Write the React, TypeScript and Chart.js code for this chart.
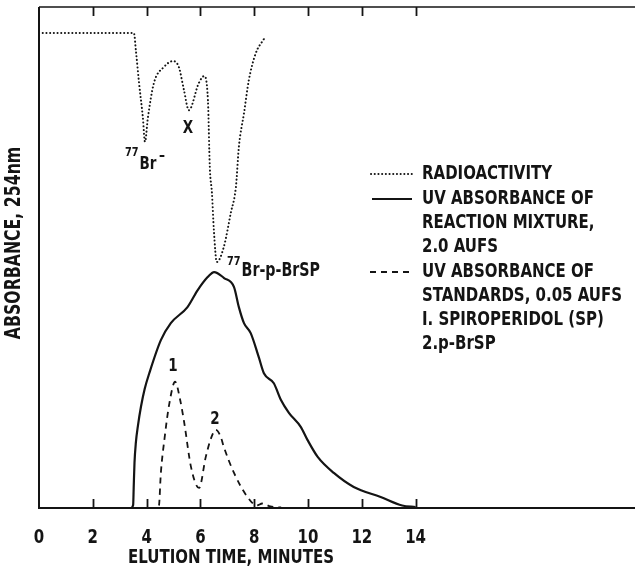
import React, { useEffect, useRef } from "react";
import { Chart, registerables } from "chart.js";

Chart.register(...registerables);

// ---- data (elution time in minutes, relative response 0-100) ----
const radioTime = [0, 3.53, 3.6, 3.72, 3.86, 3.94, 4.05, 4.27, 4.64, 4.98, 5.2, 5.39, 5.57, 5.94, 6.14, 6.28, 6.35, 6.43, 6.5, 6.61, 6.87, 7.13, 7.32, 7.43, 7.62, 7.8, 8.06, 8.36];
const radioValue = [94.8, 94.8, 91.4, 84.8, 78.0, 73.1, 78.0, 84.8, 88.0, 89.2, 88.0, 83.4, 79.4, 84.8, 86.2, 81.4, 68.0, 62.8, 55.5, 49.1, 52.1, 58.9, 64.1, 72.1, 78.8, 85.4, 90.8, 93.6];

const mixTime = [0, 3.42, 3.5, 3.52, 3.55, 3.6, 3.68, 3.79, 3.93, 4.1, 4.53, 4.9, 5.52, 5.9, 6.27, 6.51, 6.88, 7.25, 7.43, 7.62, 7.87, 8.17, 8.36, 8.73, 8.99, 9.29, 9.73, 9.98, 10.36, 10.96, 11.7, 12.7, 13.5, 14];
const mixValue = [0, 0, 0.6, 4.0, 9.0, 13.0, 16.5, 20.2, 23.8, 26.9, 33.5, 36.9, 40.1, 43.5, 46.1, 47.1, 45.9, 44.1, 40.1, 36.9, 34.9, 30.1, 26.9, 24.9, 21.6, 19.0, 16.2, 13.6, 10.2, 7.0, 4.2, 2.2, 0.5, 0.2];

const stdTime = [3.7, 4.4, 4.46, 4.53, 4.66, 4.85, 5.06, 5.25, 5.4, 5.65, 5.95, 6.2, 6.4, 6.57, 6.75, 6.87, 7.25, 7.75, 8.1, 8.3, 8.6, 9.0];
const stdValue = [0, 0, 0.5, 7.0, 13.6, 21.0, 25.2, 21.5, 17.0, 8.2, 4.0, 10.2, 14.0, 15.6, 14.3, 12.2, 7.0, 2.2, 0.5, 0.9, 0.3, 0.1];

const xTicks = [0, 2, 4, 6, 8, 10, 12, 14];
const xTitle = "ELUTION TIME, MINUTES";
const yTitle = "ABSORBANCE, 254nm";
const legendRows = [
  "RADIOACTIVITY",
  "UV ABSORBANCE OF",
  "REACTION MIXTURE,",
  "2.0 AUFS",
  "UV ABSORBANCE OF",
  "STANDARDS, 0.05 AUFS",
  "I. SPIROPERIDOL (SP)",
  "2.p-BrSP",
];

const INK = "#141414";
const FONT = "'Liberation Sans Narrow', 'DejaVu Sans Condensed', 'Liberation Sans', Arial, sans-serif";

function App() {
  const ref = useRef<HTMLCanvasElement | null>(null);

  useEffect(() => {
    document.body.style.margin = "0";
    const canvas = ref.current!;
    const pts = (t: number[], v: number[]) => t.map((x, i) => ({ x, y: v[i] }));

    const framePlugin = {
      id: "frame",
      afterDraw(chart: any) {
        const ctx = chart.ctx as CanvasRenderingContext2D;
        const { left, right, top, bottom } = chart.chartArea;
        const xs = chart.scales.x;
        ctx.save();
        ctx.strokeStyle = INK;
        ctx.fillStyle = INK;
        ctx.lineCap = "butt";

        // frame
        ctx.lineWidth = 2;
        ctx.beginPath();
        ctx.moveTo(left, top);
        ctx.lineTo(left, bottom);
        ctx.lineTo(right, bottom);
        ctx.stroke();
        ctx.lineWidth = 1.6;
        ctx.beginPath();
        ctx.moveTo(left, top);
        ctx.lineTo(right, top);
        ctx.stroke();

        // ticks
        ctx.lineWidth = 1.8;
        xTicks.forEach((v) => {
          if (v === 0) return;
          const px = Math.round(xs.getPixelForValue(v)) + 0.5;
          ctx.beginPath();
          ctx.moveTo(px, bottom);
          ctx.lineTo(px, bottom - 9);
          ctx.moveTo(px, top);
          ctx.lineTo(px, top + 9);
          ctx.stroke();
        });

        // text helpers (condensed look via horizontal scale)
        ctx.font = `bold 20px ${FONT}`;
        const sx = 200 / ctx.measureText("STANDARDS, 0.05 AUFS").width;
        const txt = (s: string, x: number, y: number, size: number, align: CanvasTextAlign = "left") => {
          ctx.save();
          ctx.font = `bold ${size}px ${FONT}`;
          ctx.textAlign = align;
          ctx.textBaseline = "middle";
          ctx.translate(x, y);
          ctx.scale(sx, 1);
          ctx.fillText(s, 0, 0);
          const w = ctx.measureText(s).width * sx;
          ctx.restore();
          return w;
        };

        // tick labels
        xTicks.forEach((v) => {
          txt(String(v), xs.getPixelForValue(v), 538, 20, "center");
        });
        // axis titles
        txt(xTitle, 231, 558, 20, "center");
        ctx.save();
        ctx.translate(15, 243);
        ctx.rotate(-Math.PI / 2);
        txt(yTitle, 0, 0, 21, "center");
        ctx.restore();

        // peak annotations
        let w = txt("77", 125, 153, 13);
        w = txt("Br", 125 + w + 1, 164, 18);
        txt("\u2013", 142 + w, 156, 16);
        txt("X", 188, 128, 18, "center");
        const w2 = txt("77", 227, 262, 13);
        txt("Br-p-BrSP", 227 + w2 + 1, 271, 19);
        txt("1", 173, 366, 18, "center");
        txt("2", 215, 419, 18, "center");

        // legend
        const rowY = [174, 199, 223, 247, 272, 296, 320, 344];
        legendRows.forEach((s, i) => txt(s, 422, rowY[i], 20));
        ctx.lineWidth = 2;
        // dotted sample
        ctx.lineCap = "round";
        ctx.setLineDash([0.1, 3.6]);
        ctx.beginPath();
        ctx.moveTo(371, rowY[0]);
        ctx.lineTo(413, rowY[0]);
        ctx.stroke();
        // solid sample
        ctx.lineCap = "butt";
        ctx.setLineDash([]);
        ctx.beginPath();
        ctx.moveTo(372, rowY[1]);
        ctx.lineTo(412, rowY[1]);
        ctx.stroke();
        // dashed sample
        ctx.setLineDash([6, 5]);
        ctx.lineWidth = 1.8;
        ctx.beginPath();
        ctx.moveTo(370, rowY[4]);
        ctx.lineTo(414, rowY[4]);
        ctx.stroke();
        ctx.restore();
      },
    };

    const chart = new Chart(canvas, {
      type: "line",
      data: {
        datasets: [
          {
            label: "RADIOACTIVITY",
            data: pts(radioTime, radioValue),
            borderColor: INK,
            borderWidth: 2,
            borderDash: [0.1, 3.6],
            borderCapStyle: "round",
            cubicInterpolationMode: "monotone",
            pointRadius: 0,
            fill: false,
          },
          {
            label: "UV ABSORBANCE OF REACTION MIXTURE, 2.0 AUFS",
            data: pts(mixTime, mixValue),
            borderColor: INK,
            borderWidth: 2.2,
            cubicInterpolationMode: "monotone",
            pointRadius: 0,
            fill: false,
          },
          {
            label: "UV ABSORBANCE OF STANDARDS, 0.05 AUFS",
            data: pts(stdTime, stdValue),
            borderColor: INK,
            borderWidth: 1.8,
            borderDash: [6, 5],
            cubicInterpolationMode: "monotone",
            pointRadius: 0,
            fill: false,
          },
        ],
      },
      options: {
        animation: false,
        responsive: false,
        events: [],
        layout: { padding: { left: 39, top: 7, right: 0, bottom: 64 } },
        scales: {
          x: { type: "linear", min: 0, max: 596 / 26.9, display: false },
          y: { type: "linear", min: 0, max: 100, display: false },
        },
        plugins: { legend: { display: false }, tooltip: { enabled: false } },
      },
      plugins: [framePlugin],
    } as any);

    return () => chart.destroy();
  }, []);

  return (
    <div style={{ width: 635, height: 572, background: "#fff" }}>
      <canvas ref={ref} width={635} height={572} style={{ display: "block" }} />
    </div>
  );
}

export default App;
